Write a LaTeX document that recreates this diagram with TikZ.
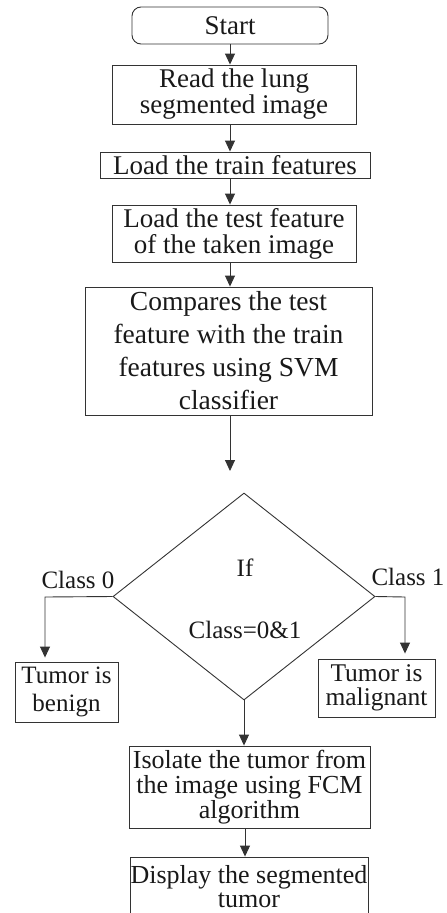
\documentclass[tikz,border=0pt]{standalone}
\usepackage{fontspec}
\setmainfont{Liberation Serif}
\usetikzlibrary{arrows.meta,shapes.geometric}
\begin{document}
\begin{tikzpicture}[x=1pt,y=-1pt,
  box/.style={draw=black!80, line width=0.9pt, align=center, inner sep=0pt, text=black!90},
  arr/.style={draw=black!80, line width=0.9pt, -{Triangle[length=11pt,width=10pt]}},
  ln/.style={draw=black!80, line width=0.9pt},
  lbl/.style={inner sep=0pt, text=black!90}]
\useasboundingbox (0,0) rectangle (447,913);
\node[box, rounded corners=9pt, minimum width=196pt, minimum height=37pt, font=\fontsize{27}{30}\selectfont] (start) at (230,25.5) {Start};
\node[box, minimum width=244pt, minimum height=59pt, font=\fontsize{27}{26}\selectfont] (read) at (234,94.5) {Read the lung\\segmented image};
\node[box, minimum width=270pt, minimum height=26pt, font=\fontsize{27}{26}\selectfont] (train) at (235,165) {Load the train features};
\node[box, minimum width=244pt, minimum height=57pt, font=\fontsize{27}{26}\selectfont] (test) at (234,233.5) {Load the test feature\\of the taken image};
\node[box, minimum width=287pt, minimum height=128pt, font=\fontsize{27.5}{33}\selectfont] (comp) at (228.5,351) {Compares the test\\feature with the train\\features using SVM\\classifier};
\node[draw=black!80, line width=0.9pt, diamond, inner sep=0pt, minimum width=262pt, minimum height=207pt] (dia) at (244,596.5) {};
\node[lbl, font=\fontsize{25}{30}\selectfont] (iftxt) at (245,568) {If};
\node[lbl, font=\fontsize{25}{30}\selectfont] (cond) at (245,630) {Class=0\&1};
\node[lbl, font=\fontsize{25}{30}\selectfont] (c0) at (78,580) {Class 0};
\node[lbl, font=\fontsize{25}{30}\selectfont] (c1) at (408,577) {Class 1};
\node[box, minimum width=103pt, minimum height=60pt, font=\fontsize{25}{28}\selectfont] (benign) at (66.5,692) {Tumor is\\benign};
\node[box, minimum width=117pt, minimum height=58pt, font=\fontsize{25.5}{24}\selectfont] (malig) at (376.5,688) {Tumor is\\malignant};
\node[box, minimum width=241pt, minimum height=82pt, font=\fontsize{26}{25}\selectfont] (iso) at (249.5,787) {Isolate the tumor from\\the image using FCM\\algorithm};
\node[box, minimum width=238pt, minimum height=60pt, font=\fontsize{26}{24}\selectfont] (disp) at (249,887) {Display the segmented\\tumor};
\coordinate (tip) at (230,471);
\coordinate (lcorner) at (45,597);
\coordinate (rcorner) at (405,597);
\draw[arr] (230,0 |- start.south) -- (230,0 |- read.north);
\draw[arr] (230,0 |- read.south) -- (230,0 |- train.north);
\draw[arr] (230,0 |- train.south) -- (230,0 |- test.north);
\draw[arr] (230,0 |- test.south) -- (230,0 |- comp.north);
\draw[arr] (230,0 |- comp.south) -- (tip);
\draw[arr] (dia.west) -- (lcorner) -- ([yshift=4pt]lcorner |- benign.north);
\draw[arr] (dia.east) -- (rcorner) -- ([yshift=5pt]rcorner |- malig.north);
\draw[arr] (dia.south) -- (dia.south |- iso.north);
\draw[arr] (245,0 |- iso.south) -- (245,0 |- disp.north);
\end{tikzpicture}
\end{document}
